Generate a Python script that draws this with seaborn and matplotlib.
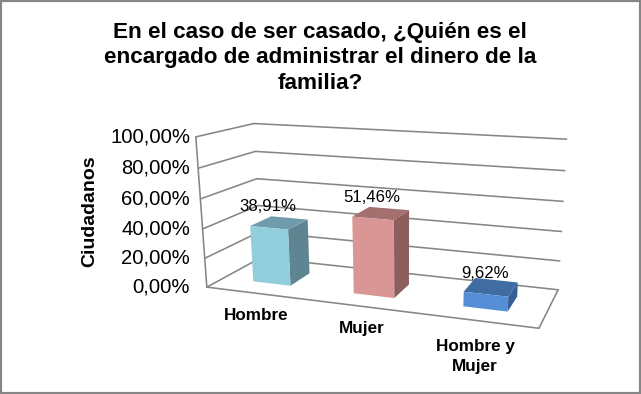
import numpy as np
import pandas as pd
import seaborn as sns
import matplotlib
matplotlib.use('Agg')
import matplotlib.pyplot as plt
from matplotlib.patches import Polygon, Rectangle
from matplotlib.transforms import Affine2D, Transform

categorias = ['Hombre', 'Mujer', 'Hombre y\nMujer']
valores = [38.91, 51.46, 9.62]
etiquetas = ['38,91%', '51,46%', '9,62%']
ticks_y = [0, 20, 40, 60, 80, 100]
ticks_txt = ['0,00%', '20,00%', '40,00%', '60,00%', '80,00%', '100,00%']
titulo = 'En el caso de ser casado, ¿Quién es el\nencargado de administrar el dinero de la\nfamilia?'

col_frente = ['#92CDDC', '#D99694', '#558ED5']
col_lado = ['#5F8592', '#8C5F5E', '#355F96']
col_techo = ['#6F9CAC', '#A3706F', '#3F6CA3']
GRIS = '#868686'
W, H = 641, 394

sns.set_theme(style='white')
plt.rcParams['font.family'] = ['Liberation Sans', 'DejaVu Sans']

# calibracion de la caja 3D: (x, profundidad, z) -> pixel de la imagen
caja = [
    (-0.5, 0, 0, 205.7, 285.7), (-0.5, 0, 100, 196.7, 137.7),
    (-0.5, 1, 0, 262.0, 259.0), (-0.5, 1, 100, 253.0, 122.7),
    (2.5, 0, 0, 539.3, 329.0),
    (2.5, 1, 0, 557.7, 289.0), (2.5, 1, 100, 566.7, 139.3),
]
A = []
for x, d, z, u, v in caja:
    A.append([x, d, z, 1, 0, 0, 0, 0, -u*x, -u*d, -u*z, -u])
    A.append([0, 0, 0, 0, x, d, z, 1, -v*x, -v*d, -v*z, -v])
P = np.linalg.svd(np.array(A))[2][-1].reshape(3, 4)


def proy(x, d, z):
    r = P @ np.array([x, d, z, 1.0])
    return r[0]/r[2], r[1]/r[2]


class PlanoFrontal(Transform):
    # lleva (x, z) del barplot al plano frontal de las barras
    input_dims = output_dims = 2

    def __init__(self, d):
        super().__init__()
        self.d = d

    def transform_non_affine(self, values):
        pts = [proy(x, self.d, z) for x, z in values]
        return np.array([(u, H - v) for u, v in pts])


pix = Affine2D().scale(1, -1).translate(0, H)  # coordenadas de pixel, y hacia abajo

df = pd.DataFrame({'cat': categorias, 'val': valores})

fig = plt.figure(figsize=(W/100, H/100), dpi=100, facecolor='white')
ax = fig.add_axes([0, 0, 1, 1])
sns.barplot(data=df, x='cat', y='val', hue='cat', palette=col_frente, width=0.38,
            saturation=1, legend=False, ax=ax, zorder=5, edgecolor='none', linewidth=0)
ax.set_axis_off()

D0, D1 = 0.29, 0.69


def linea(p, q, **kw):
    ax.plot([p[0], q[0]], [p[1], q[1]], transform=pix, color=GRIS, lw=1.15,
            clip_on=False, solid_capstyle='round', zorder=1, **kw)


# paredes y piso
for t in ticks_y:
    linea(proy(-0.5, 0, t), proy(-0.5, 1, t))
    linea(proy(-0.5, 1, t), proy(2.5, 1, t))
linea(proy(-0.5, 0, 0), proy(-0.5, 0, 100))
linea(proy(-0.5, 0, 0), proy(2.5, 0, 0))
linea(proy(2.5, 0, 0), proy(2.5, 1, 0))

for t, txt in zip(ticks_y, ticks_txt):
    ax.text(190, proy(-0.5, 0, t)[1], txt, transform=pix, ha='right', va='center',
            fontsize=14.6, color='black')

# caras de cada barra a partir del rectangulo de seaborn
frente = PlanoFrontal(D0)
desp_cat = [(0, 22), (0, 22), (-2, 36)]
for i, b in enumerate(list(ax.patches)):
    x0, x1, h = b.get_x(), b.get_x() + b.get_width(), b.get_height()
    lado = [proy(x1, D0, 0), proy(x1, D1, 0), proy(x1, D1, h), proy(x1, D0, h)]
    techo = [proy(x0, D0, h), proy(x1, D0, h), proy(x1, D1, h), proy(x0, D1, h)]
    ax.add_patch(Polygon(lado, closed=True, transform=pix, fc=col_lado[i], ec='none', zorder=4, clip_on=False))
    ax.add_patch(Polygon(techo, closed=True, transform=pix, fc=col_techo[i], ec='none', zorder=4, clip_on=False))
    b.set_transform(frente)
    b.set_clip_on(False)
    u, v = proy((x0 + x1)/2, D0, h)
    ax.text(u - 1, v - 21, etiquetas[i], transform=pix, ha='center', va='center',
            fontsize=12.1, color='black', zorder=6)
    cu, cv = proy(i, 0, 0)
    ax.text(cu + desp_cat[i][0], cv + desp_cat[i][1], categorias[i], transform=pix, ha='center', va='center',
            fontsize=12.3, fontweight='bold', color='black', linespacing=1.4)

ax.text(320, 58, titulo, transform=pix, ha='center', va='center', fontsize=16.2,
        fontweight='bold', color='black', linespacing=1.28)
ax.text(90, 211, 'Ciudadanos', transform=pix, ha='center', va='center', rotation=90,
        fontsize=14, fontweight='bold', color='black')

fig.add_artist(Rectangle((0, 0), 1, 1, transform=fig.transFigure, fill=False,
                         ec=GRIS, lw=3))
fig.savefig('out.png', dpi=100)
